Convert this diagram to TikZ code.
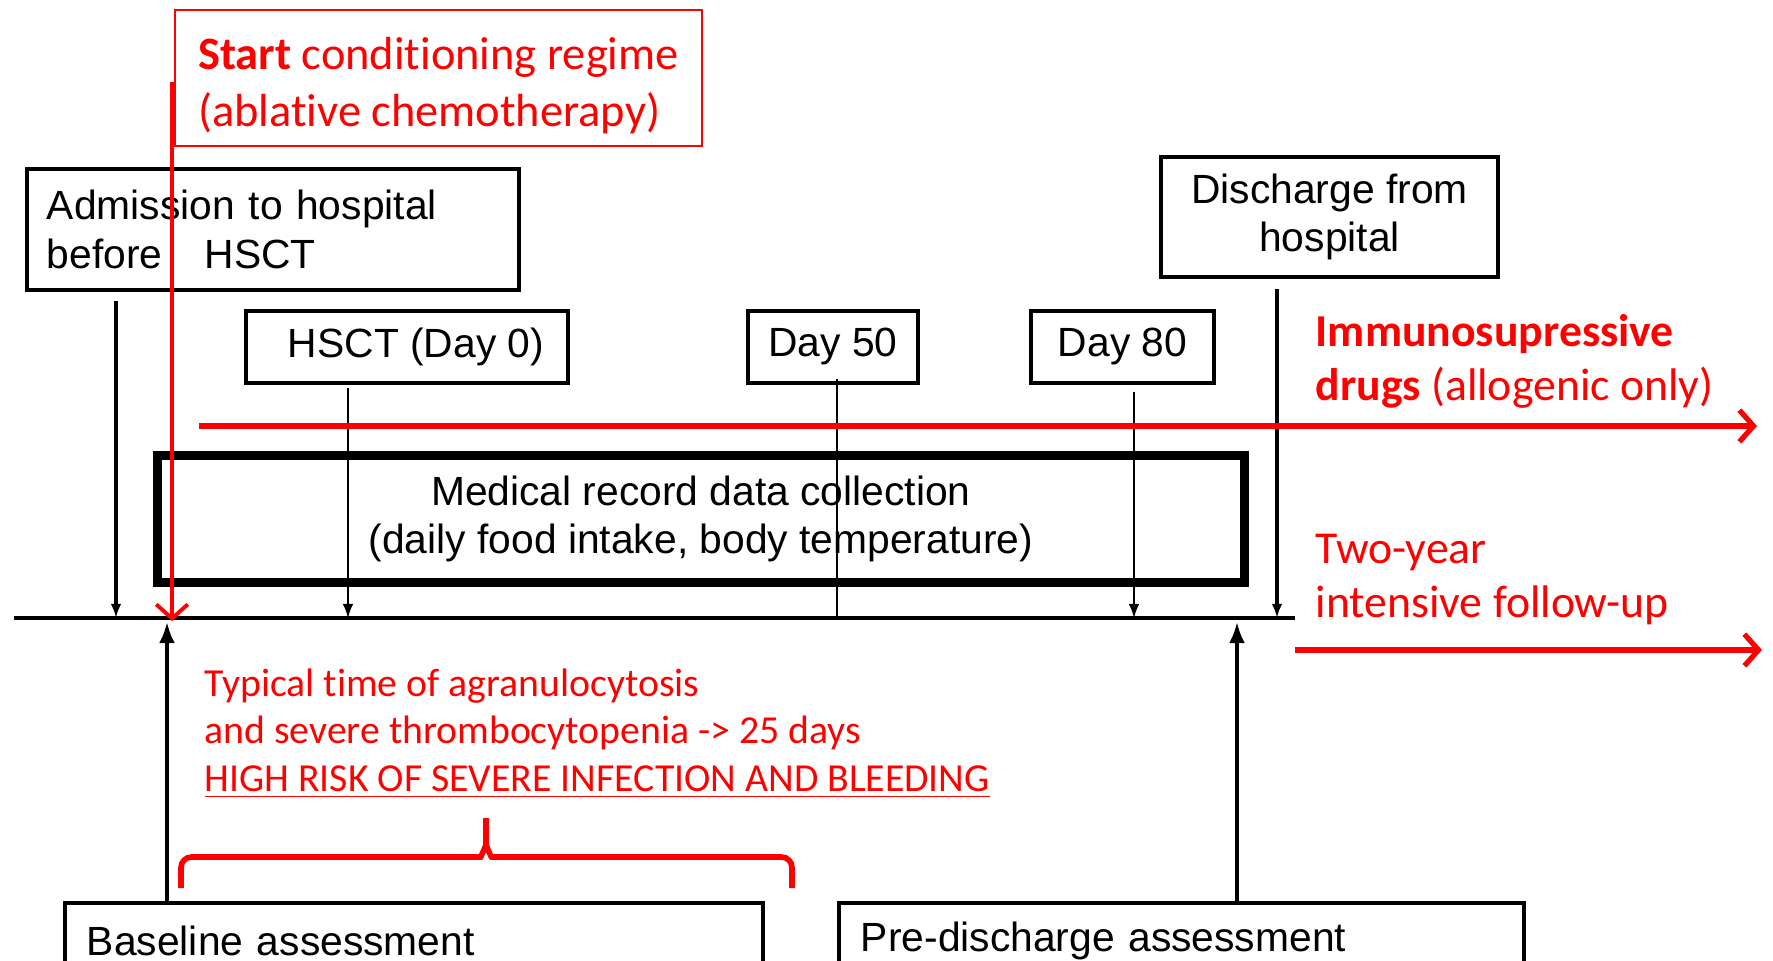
\documentclass[tikz,border=0pt]{standalone}
\usepackage{fontspec}
\setmainfont{Liberation Sans}
\newfontfamily\calibri[Ligatures=NoCommon]{Carlito}
\usetikzlibrary{arrows.meta,positioning,calc}
\tikzset{
    note color/.style={red},
    box/.style={draw,line width=1.1pt,inner sep=0pt},
    record box/.style={draw,line width=2.6pt,inner sep=0pt,align=center},
    note box/.style={draw,note color,line width=0.5pt,inner sep=0pt,align=left,
        font=\calibri\fontsize{13.2}{16}\selectfont},
    note text/.style={note color,inner sep=0pt,align=left,
        font=\calibri\fontsize{11.3}{13.5}\selectfont},
    big note/.style={note color,inner sep=0pt,align=left,
        font=\calibri\fontsize{13}{15.4}\selectfont},
    timeline/.style={line width=1pt},
    arr/.style={-{Latex[length=4pt,width=3pt]}},
    thin arr/.style={arr,line width=0.4pt},
    thick arr/.style={arr,line width=1pt},
    up arr/.style={-{Latex[length=6pt,width=4.5pt]},line width=1pt},
    red arr/.style={note color,line width=1.5pt,-{Straight Barb[length=4pt,width=9pt]}},
    brace/.style={note color,line width=1.6pt,rounded corners=3pt},
}
\tikzstyle{every node}=[font=\fontsize{11.6}{13.8}\selectfont]

\begin{document}
\begin{tikzpicture}[x=0.01cm,y=-0.01cm]
    \useasboundingbox (0,0) rectangle (1773,961);
    \clip (0,0) rectangle (1773,961);

    % events above the time line
    \node[box,anchor=north west,minimum width=4.92cm,minimum height=1.21cm,
        inner xsep=0.2cm,text width=4.52cm,align=left] (admission) at (25,167)
        {Admission to hospital\\before\hspace{0.42cm}HSCT};
    \node[box,anchor=north west,minimum width=3.22cm,minimum height=0.72cm] (hsct) at (244,309) {\hspace*{0.18cm}HSCT (Day 0)};
    \node[box,anchor=north west,minimum width=1.70cm,minimum height=0.72cm] (day50) at (746,309) {Day 50};
    \node[box,anchor=north west,minimum width=1.83cm,minimum height=0.72cm] (day80) at (1029,309) {Day 80};
    \node[box,anchor=north west,minimum width=3.37cm,minimum height=1.20cm,align=center] (discharge) at (1159,155)
        {Discharge from\\hospital};
    \node[record box,anchor=north west,minimum width=10.86cm,minimum height=1.27cm] (records) at (153,451)
        {Medical record data collection\\(daily food intake, body temperature)};

    % assessments below
    \node[box,anchor=north west,minimum width=6.98cm,minimum height=0.76cm,
        inner xsep=0.22cm,text width=6.54cm,align=left] (baseline) at (63,901) {Baseline assessment};
    \node[box,anchor=north west,minimum width=6.85cm,minimum height=0.76cm,
        inner xsep=0.22cm,text width=6.41cm,align=left] (predischarge) at (837,901) {Pre-discharge assessment};

    % time line
    \coordinate (tl-left) at (14,618);
    \coordinate (tl-right) at (1295,618);
    \draw[timeline] (tl-left) -- (tl-right);
    \coordinate (t-adm) at (116,618);
    \coordinate (t-start) at (172,618);
    \coordinate (t-base) at (167,618);
    \coordinate (t-hsct) at (348,618);
    \coordinate (t-50) at (837,618);
    \coordinate (t-80) at (1134,618);
    \coordinate (t-pre) at (1237,618);
    \coordinate (t-dis) at (1277,618);

    \draw[thick arr,shorten <=0.09cm] (admission.south -| t-adm) -- (t-adm);
    \draw[thin arr,shorten <=0.03cm] (hsct.south -| t-hsct) -- (t-hsct);
    \draw[line width=0.4pt] ([yshift=0.06cm]day50.south -| t-50) -- (t-50);
    \draw[thin arr,shorten <=0.07cm] (day80.south -| t-80) -- (t-80);
    \draw[thick arr,shorten <=0.1cm] (discharge.south -| t-dis) -- (t-dis);
    \draw[up arr,shorten >=0.04cm] (baseline.north -| t-base) -- (t-base);
    \draw[up arr,shorten >=0.04cm] (predischarge.north -| t-pre) -- (t-pre);

    % red notes
    \node[note box,anchor=north west,minimum width=5.27cm,minimum height=1.36cm] (start) at (174,9)
        {\rule{0pt}{13.5pt}\textbf{Start} conditioning regime\\(ablative chemotherapy)};
    \draw[red arr,line width=1.1pt] ([yshift=-0.04cm]start.west -| t-start) -- ([yshift=-0.03cm]t-start);

    \coordinate (imm-from) at (199,426);
    \coordinate (imm-to) at (1757,426);
    \draw[red arr] (imm-from) -- (imm-to);
    \node[big note,anchor=north west] (drugs) at (1315,314)
        {\textbf{Immunosupressive}\\\textbf{drugs} (allogenic only)};

    \coordinate (fu-from) at (1295,650);
    \coordinate (fu-to) at (1762,650);
    \draw[red arr] (fu-from) -- (fu-to);
    \node[big note,anchor=north west] (followup) at (1315,533)
        {Two-year\\intensive follow-up};

    \node[note text,anchor=north west] (nadir) at (204,668)
        {Typical time of agranulocytosis\\and severe thrombocytopenia -> 25 days\\\underline{HIGH RISK OF SEVERE INFECTION AND BLEEDING}};

    \draw[brace] (181,888) -- (181,857) -- (470,857) to[out=0,in=-90] (486,834) -- (486,818);
    \draw[brace] (792,888) -- (792,857) -- (502,857) to[out=180,in=-90] (486,834) -- (486,818);
\end{tikzpicture}
\end{document}
